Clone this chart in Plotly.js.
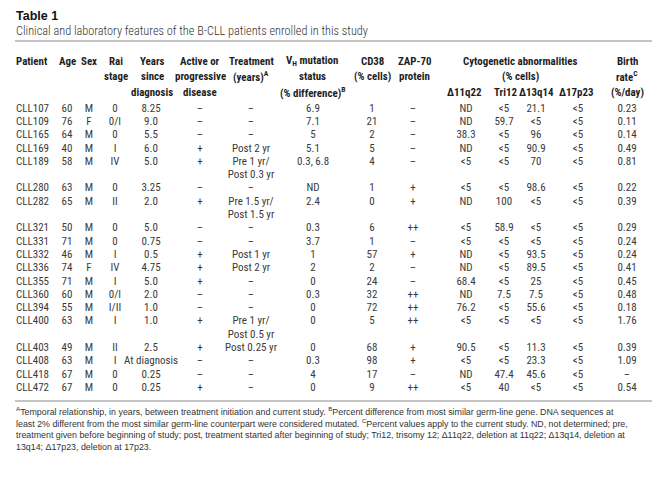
<!DOCTYPE html>
<html><head><meta charset="utf-8">
<script src="https://cdn.plot.ly/plotly-3.0.1.min.js"></script>
<style>html,body{margin:0;padding:0;background:#fff}</style>
</head><body><div id="chart" style="width:667px;height:483px"></div>
<script>
// ---------- DATA ----------
const patients = ['CLL107','CLL109','CLL165','CLL169','CLL189','CLL280','CLL282','CLL321','CLL331','CLL332','CLL336','CLL355','CLL360','CLL394','CLL400','CLL403','CLL408','CLL418','CLL472'];
const age = ['60','76','64','40','58','63','65','50','71','46','74','71','60','55','63','49','63','67','67'];
const sex = ['M','F','M','M','M','M','M','M','M','M','F','M','M','M','M','M','M','M','M'];
const raiStage = ['0','0/I','0','I','IV','0','II','0','0','I','IV','I','0/I','I/II','I','II','I','0','0'];
const yearsSinceDiagnosis = ['8.25','9.0','5.5','6.0','5.0','3.25','2.0','5.0','0.75','0.5','4.75','5.0','2.0','1.0','1.0','2.5','At diagnosis','0.25','0.25'];
const activeDisease = ['–','–','–','+','+','–','+','–','–','+','+','+','–','–','+','+','–','–','+'];
const treatment = ['–','–','–','Post 2 yr','Pre 1 yr/<br>Post 0.3 yr','–','Pre 1.5 yr/<br>Post 1.5 yr','–','–','Post 1 yr','Post 2 yr','–','–','–','Pre 1 yr/<br>Post 0.5 yr','Post 0.25 yr','–','–','–'];
const vhMutation = ['6.9','7.1','5','5.1','0.3, 6.8','ND','2.4','0.3','3.7','1','2','0','0.3','0','0','0','0.3','4','0'];
const cd38 = ['1','21','2','5','4','1','0','6','1','57','2','24','32','72','5','68','98','17','9'];
const zap70 = ['–','–','–','–','–','+','+','++','–','+','–','–','++','++','++','+','+','–','++'];
const del11q22 = ['ND','ND','38.3','ND','<5','<5','ND','<5','<5','ND','ND','68.4','ND','76.2','<5','90.5','<5','ND','<5'];
const tri12 = ['<5','59.7','<5','<5','<5','<5','100','58.9','<5','<5','<5','<5','7.5','<5','<5','<5','<5','47.4','40'];
const del13q14 = ['21.1','<5','96','90.9','70','98.6','<5','<5','<5','93.5','89.5','25','7.5','55.6','<5','11.3','23.3','45.6','<5'];
const del17p23 = ['<5','<5','<5','<5','<5','<5','<5','<5','<5','<5','<5','<5','<5','<5','<5','<5','<5','<5','<5'];
const birthRate = ['0.23','0.11','0.14','0.49','0.81','0.22','0.39','0.29','0.24','0.24','0.41','0.45','0.48','0.18','1.76','0.39','1.09','–','0.54'];

const headerLine1 = ['Patient','Age','Sex','Rai','Years','Active or','Treatment','V<sub>H</sub> mutation','CD38','ZAP-70','','','','','Birth'];
const headerLine2 = ['','','','stage','since','progressive','(years)<sup>A</sup>','status','(% cells)','protein','','','','','rate<sup>C</sup>'];
const headerLine3 = ['','','','','diagnosis','disease','','(% difference)<sup>B</sup>','','','Δ11q22','Tri12','Δ13q14','Δ17p23','(%/day)'];
const groupHeader = ['Cytogenetic abnormalities','(% cells)'];

const titleText = 'Table 1';
const subtitleText = 'Clinical and laboratory features of the B-CLL patients enrolled in this study';
const footnoteLines = [
  '<sup>A</sup>Temporal relationship, in years, between treatment initiation and current study. <sup>B</sup>Percent difference from most similar germ-line gene. DNA sequences at',
  'least 2% different from the most similar germ-line counterpart were considered mutated. <sup>C</sup>Percent values apply to the current study. ND, not determined; pre,',
  'treatment given before beginning of study; post, treatment started after beginning of study; Tri12, trisomy 12; Δ11q22, deletion at 11q22; Δ13q14, deletion at',
  '13q14; Δ17p23, deletion at 17p23.'
];

// ---------- LAYOUT / STYLE ----------
const W = 667, H = 483;
const FIRST_LINE_PX = 109, LINE_PX = 13.29;
const colX = [16, 67, 89, 115, 151, 200, 251, 313, 372, 413, 466, 504, 536, 578, 627];
const headX = [16, 67, 89, 116, 152, 200, 251, 312, 372, 414, 464, 505, 536, 576, 627];
const headerY = [61, 76.5, 92];
const groupX = 520;
const COND = '"Roboto Condensed", "DejaVu Sans Condensed", sans-serif';
const REG = '"Liberation Sans", Arial, sans-serif';
const bodyFont = {family: COND, size: 11, color: '#3a3a3a'};
const headFont = {family: COND, size: 10.9, color: '#1e1e1e', weight: 'bold'};

const columns = [patients, age, sex, raiStage, yearsSinceDiagnosis, activeDisease, treatment, vhMutation, cd38, zap70, del11q22, tri12, del13q14, del17p23, birthRate];

const lx = [], ly = [], lt = [], cx = [], cy = [], ct = [];
let line = 0;
for (let r = 0; r < patients.length; r++) {
  let maxLines = 1;
  columns.forEach((col, c) => {
    const parts = String(col[r]).split('<br>');
    maxLines = Math.max(maxLines, parts.length);
    parts.forEach((p, k) => {
      if (c === 0) { lx.push(colX[c]); ly.push(line + k); lt.push(p); }
      else { cx.push(colX[c]); cy.push(line + k); ct.push(p); }
    });
  });
  line += maxLines;
}

const traces = [
  {type: 'scatter', mode: 'text', x: lx, y: ly, text: lt, textposition: 'middle right', textfont: bodyFont, hoverinfo: 'skip', showlegend: false, cliponaxis: false},
  {type: 'scatter', mode: 'text', x: cx, y: cy, text: ct, textposition: 'middle center', textfont: bodyFont, hoverinfo: 'skip', showlegend: false, cliponaxis: false}
];

const px = x => x / W;
const py = y => 1 - y / H;
const ann = [];
function addText(text, x, y, font, anchor) {
  ann.push({text: text, x: px(x), y: py(y), xref: 'paper', yref: 'paper', xanchor: anchor || 'center', yanchor: 'middle', showarrow: false, font: font, borderpad: 0, borderwidth: 0});
}
[headerLine1, headerLine2, headerLine3].forEach((row, i) => {
  row.forEach((t, c) => { if (t) addText(t, c === 0 ? colX[0] : headX[c], headerY[i], headFont, c === 0 ? 'left' : 'center'); });
});
addText(groupHeader[0], groupX, headerY[0], headFont);
addText(groupHeader[1], groupX, headerY[1], headFont);
addText(titleText, 16, 16, {family: REG, size: 12.5, color: '#111', weight: 'bold'}, 'left');
addText(subtitleText, 16, 31, {family: COND, size: 12.3, color: '#333', weight: 300}, 'left');
footnoteLines.forEach((t, i) => addText(t, 16, 410.5 + i * 12.1, {family: REG, size: 8.85, color: '#333'}, 'left'));

const layout = {
  width: W, height: H,
  margin: {l: 0, r: 0, t: 0, b: 0, pad: 0},
  paper_bgcolor: '#fff', plot_bgcolor: '#fff',
  xaxis: {range: [0, W], visible: false, fixedrange: true},
  yaxis: {range: [(H - FIRST_LINE_PX) / LINE_PX, -FIRST_LINE_PX / LINE_PX], visible: false, fixedrange: true},
  annotations: ann,
  shapes: [
    {type: 'line', xref: 'paper', yref: 'paper', x0: px(15), x1: px(652), y0: py(41), y1: py(41), line: {color: '#8a8a8a', width: 1}},
    {type: 'line', xref: 'paper', yref: 'paper', x0: px(15), x1: px(652), y0: py(401), y1: py(401), line: {color: '#8a8a8a', width: 1}}
  ]
};
Plotly.newPlot('chart', traces, layout, {displayModeBar: false, staticPlot: true});
</script></body></html>
